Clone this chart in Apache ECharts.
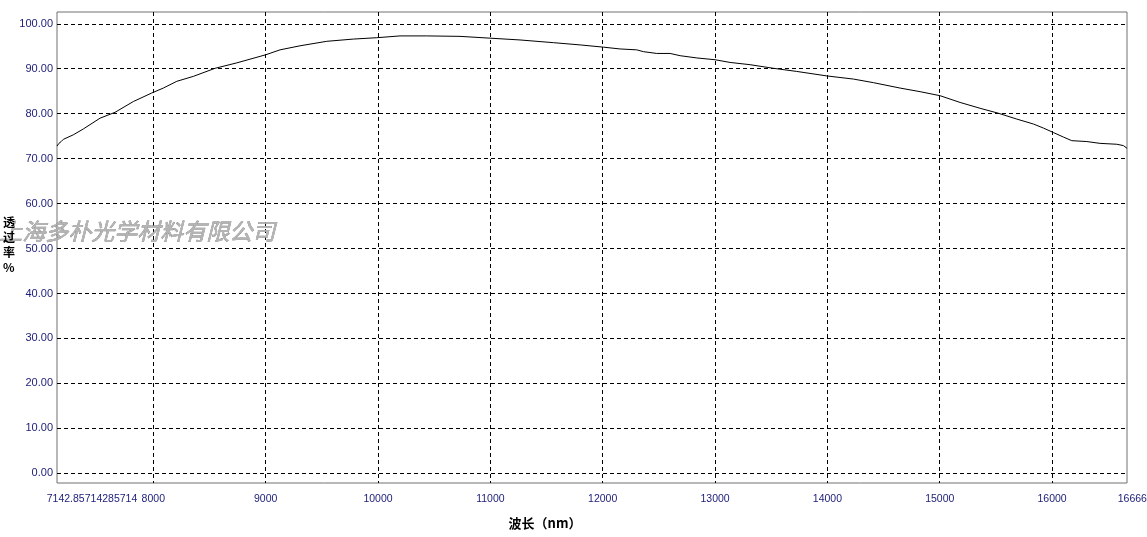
<!DOCTYPE html>
<html>
<head>
<meta charset="utf-8">
<script src="https://cdn.jsdelivr.net/npm/echarts@6/dist/echarts.min.js"></script>
<style>
html,body{margin:0;padding:0;background:#fff;}
#c{width:1147px;height:537px;}
</style>
</head>
<body>
<div id="c"></div>
<script>
// Data
const wavelengths = [7143, 7160, 7180, 7200, 7288, 7377, 7526, 7659, 7822, 7986, 8089, 8209, 8356, 8550, 8743, 9000, 9128, 9306, 9544, 9781, 9989, 10196, 10434, 10730, 10997, 11264, 11561, 11799, 12006, 12155, 12303, 12362, 12481, 12600, 12689, 12838, 13000, 13134, 13312, 13519, 13727, 13995, 14232, 14410, 14647, 14825, 15003, 15181, 15359, 15522, 15686, 15834, 15923, 16012, 16101, 16175, 16309, 16427, 16576, 16635, 16667];
const transmittance = [72.8, 73.4, 73.8, 74.3, 75.3, 76.6, 79.0, 80.3, 82.7, 84.6, 85.7, 87.2, 88.3, 90.1, 91.3, 93.1, 94.2, 95.1, 96.1, 96.6, 96.9, 97.3, 97.3, 97.2, 96.8, 96.4, 95.8, 95.3, 94.8, 94.4, 94.2, 93.8, 93.4, 93.4, 92.9, 92.4, 92.0, 91.4, 90.9, 90.1, 89.4, 88.4, 87.7, 86.9, 85.7, 84.9, 84.0, 82.5, 81.2, 80.1, 78.8, 77.7, 76.8, 75.8, 74.8, 74.0, 73.8, 73.4, 73.2, 72.9, 72.3];
const xMin = 1e7 / 1400;   // 7142.857...
const xMax = 1e7 / 600;    // 16666.67
const xTicks = [8000, 9000, 10000, 11000, 12000, 13000, 14000, 15000, 16000];
const xLabels = [xMin, 8000, 9000, 10000, 11000, 12000, 13000, 14000, 15000, 16000, xMax];
const yTicks = [0, 10, 20, 30, 40, 50, 60, 70, 80, 90, 100];
const xTitle = '波长（nm）';
const yTitleChars = ['透', '过', '率', '%'];
const watermark = '上海多朴光学材料有限公司';

const labelColor = '#1c1c78';
const chart = echarts.init(document.getElementById('c'), null, {renderer: 'canvas'});
const yTitleGraphics = yTitleChars.map((ch, i) => ({
  type: 'text', left: 3, top: 216 + i * 15, z: 80,
  style: {text: ch, fontFamily: 'Noto Sans CJK SC', fontWeight: 'bold', fontSize: 12, fill: '#000'}
}));
chart.setOption({
  backgroundColor: '#ffffff',
  animation: false,
  grid: {left: 57, right: 20, top: 12, bottom: 54, show: true, borderColor: '#707070', borderWidth: 1,
         backgroundColor: 'transparent', containLabel: false, outerBoundsMode: 'none'},
  xAxis: {
    type: 'value', min: xMin, max: xMax,
    name: xTitle, nameLocation: 'middle', nameGap: 34,
    nameTextStyle: {fontFamily: 'Noto Sans CJK SC', fontWeight: 'bold', fontSize: 13, color: '#000', padding: [0, 94, 0, 0]},
    axisLine: {show: false},
    axisTick: {show: false, customValues: xTicks},
    splitLine: {show: true, lineStyle: {color: '#000', type: [4, 3], width: 1}},
    axisLabel: {
      customValues: xLabels, margin: 11, showMinLabel: true, showMaxLabel: true, hideOverlap: false,
      fontFamily: 'Liberation Sans', fontSize: 10.5, color: labelColor,
      formatter: function (v) {
        if (Math.abs(v - xMin) < 0.01) return '{sp| }{t|7142.85714285714}';
        if (Math.abs(v - xMax) < 0.01) return '{sp2| }{t|16666.6666666667}';
        return String(Math.round(v));
      },
      rich: {
        sp: {width: 70},
        sp2: {width: 72},
        t: {fontFamily: 'Liberation Sans', fontSize: 10.5, color: labelColor}
      }
    }
  },
  yAxis: {
    type: 'value', min: -2.15, max: 102.62,
    axisLine: {show: false},
    axisTick: {show: false, customValues: yTicks},
    splitLine: {show: true, lineStyle: {color: '#000', type: [4, 3], width: 1}},
    axisLabel: {
      customValues: yTicks, margin: 4,
      fontFamily: 'Liberation Sans', fontSize: 11, color: labelColor,
      formatter: function (v) { return v.toFixed(2); }
    }
  },
  series: [{
    type: 'line',
    data: wavelengths.map((w, i) => [w, transmittance[i]]),
    showSymbol: false, symbol: 'none',
    lineStyle: {color: '#000', width: 1},
    z: 5
  }],
  graphic: [
    {
      type: 'text', left: -1, top: 220, z: 60,
      style: {
        text: watermark, fontFamily: 'Noto Sans CJK SC', fontStyle: 'italic', fontSize: 23,
        fill: '#b4b4b4', stroke: '#707070', lineWidth: 0.5,
        textShadowColor: 'rgba(255,255,255,0.9)', textShadowOffsetX: -1, textShadowOffsetY: -1, textShadowBlur: 0
      }
    }
  ].concat(yTitleGraphics)
});
</script>
</body>
</html>
